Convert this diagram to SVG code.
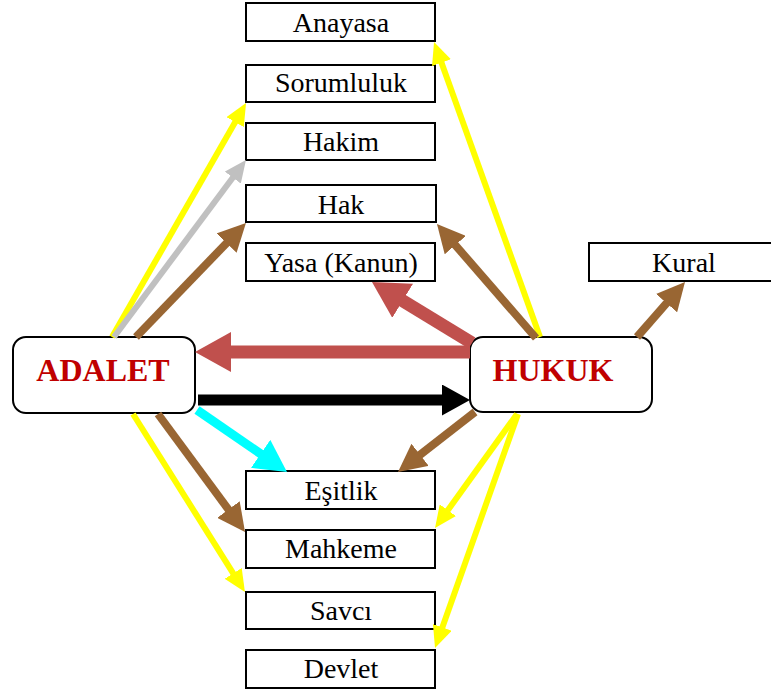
<svg xmlns="http://www.w3.org/2000/svg" width="771" height="689" viewBox="0 0 771 689">
<style>
.box{fill:#fff;stroke:#000;stroke-width:2}
.rbox{fill:#fff;stroke:#000;stroke-width:2}
.lbl{font-family:"Liberation Serif","Times New Roman",serif;font-size:28px;fill:#000;text-anchor:middle}
.big{font-family:"Liberation Serif","Times New Roman",serif;font-size:32px;font-weight:bold;fill:#C00000;text-anchor:middle}
.c{fill:none;stroke-linecap:butt}
.y{stroke:#FFFF00;stroke-width:6;marker-end:url(#hy)}
.g{stroke:#C0C0C0;stroke-width:6;marker-end:url(#hg)}
.b{stroke:#996633;stroke-width:8;marker-end:url(#hb)}
.r{stroke:#C0504D;stroke-width:13;marker-end:url(#hr)}
.k{stroke:#000;stroke-width:11;marker-end:url(#hk)}
.cy{stroke:#00FFFF;stroke-width:9;marker-end:url(#hc)}
</style>
<defs>
<marker id="hy" markerUnits="userSpaceOnUse" viewBox="0 0 22 20" markerWidth="22" markerHeight="20" refX="2" refY="10" orient="auto"><path d="M0,0L22,10L0,20z" fill="#FFFF00"/></marker>
<marker id="hg" markerUnits="userSpaceOnUse" viewBox="0 0 22 20" markerWidth="22" markerHeight="20" refX="2" refY="10" orient="auto"><path d="M0,0L22,10L0,20z" fill="#C0C0C0"/></marker>
<marker id="hb" markerUnits="userSpaceOnUse" viewBox="0 0 28 28" markerWidth="28" markerHeight="28" refX="2" refY="14" orient="auto"><path d="M0,0L28,14L0,28z" fill="#996633"/></marker>
<marker id="hr" markerUnits="userSpaceOnUse" viewBox="0 0 36 40" markerWidth="36" markerHeight="40" refX="2" refY="20" orient="auto"><path d="M0,0L36,20L0,40z" fill="#C0504D"/></marker>
<marker id="hk" markerUnits="userSpaceOnUse" viewBox="0 0 28 31" markerWidth="28" markerHeight="31" refX="2" refY="15.5" orient="auto"><path d="M0,0L28,15.5L0,31z" fill="#000"/></marker>
<marker id="hc" markerUnits="userSpaceOnUse" viewBox="0 0 32 34" markerWidth="32" markerHeight="34" refX="2" refY="17" orient="auto"><path d="M0,0L32,17L0,34z" fill="#00FFFF"/></marker>
</defs>
<g id="nodes">
<g id="anayasa"><rect class="box" x="246" y="3" width="189" height="38"/><text class="lbl" x="341" y="32">Anayasa</text></g>
<g id="sorumluluk"><rect class="box" x="246" y="65" width="189" height="37"/><text class="lbl" x="341" y="92">Sorumluluk</text></g>
<g id="hakim"><rect class="box" x="246" y="123" width="189" height="37"/><text class="lbl" x="341" y="151">Hakim</text></g>
<g id="hak"><rect class="box" x="246" y="185" width="190" height="37"/><text class="lbl" x="341" y="214">Hak</text></g>
<g id="yasa"><rect class="box" x="246" y="243" width="189" height="38"/><text class="lbl" x="341" y="272">Yasa (Kanun)</text></g>
<g id="kural"><rect class="box" x="589" y="243" width="190" height="38"/><text class="lbl" x="684" y="272">Kural</text></g>
<g id="adalet"><rect class="rbox" x="13" y="337" width="182" height="76" rx="13"/><text class="big" x="103" y="381">ADALET</text></g>
<g id="hukuk"><rect class="rbox" x="470" y="337" width="182" height="75" rx="13"/><text class="big" x="553" y="381">HUKUK</text></g>
<g id="esitlik"><rect class="box" x="246" y="471" width="189" height="38"/><text class="lbl" x="341" y="500">Eşitlik</text></g>
<g id="mahkeme"><rect class="box" x="246" y="530" width="189" height="38"/><text class="lbl" x="341" y="558">Mahkeme</text></g>
<g id="savci"><rect class="box" x="246" y="592" width="189" height="37"/><text class="lbl" x="341" y="620">Savcı</text></g>
<g id="devlet"><rect class="box" x="246" y="650" width="189" height="38"/><text class="lbl" x="341" y="678">Devlet</text></g>
</g>
<g id="connectors">
<line class="c y" x1="112" y1="337" x2="236.1" y2="120.4"/>
<line class="c g" x1="114" y1="337" x2="234" y2="176"/>
<line class="c b" x1="136" y1="337" x2="227.9" y2="241.7"/>
<line class="c y" x1="540" y1="337" x2="440.8" y2="60.8"/>
<line class="c b" x1="536" y1="338" x2="454" y2="243.6"/>
<line class="c r" x1="472" y1="343" x2="401" y2="299.7"/>
<line class="c r" x1="470" y1="352" x2="229" y2="352"/>
<line class="c k" x1="198" y1="400" x2="444" y2="400"/>
<line class="c cy" x1="197" y1="410" x2="262.3" y2="455"/>
<line class="c b" x1="475" y1="412" x2="418.5" y2="456"/>
<line class="c b" x1="158" y1="414" x2="229.6" y2="511.1"/>
<line class="c y" x1="133" y1="414" x2="234.3" y2="575.1"/>
<line class="c y" x1="517" y1="414" x2="446.7" y2="511.8"/>
<line class="c y" x1="518" y1="414" x2="441.7" y2="629.2"/>
<line class="c b" x1="637" y1="337" x2="667.9" y2="301.6"/>
</g>
</svg>
